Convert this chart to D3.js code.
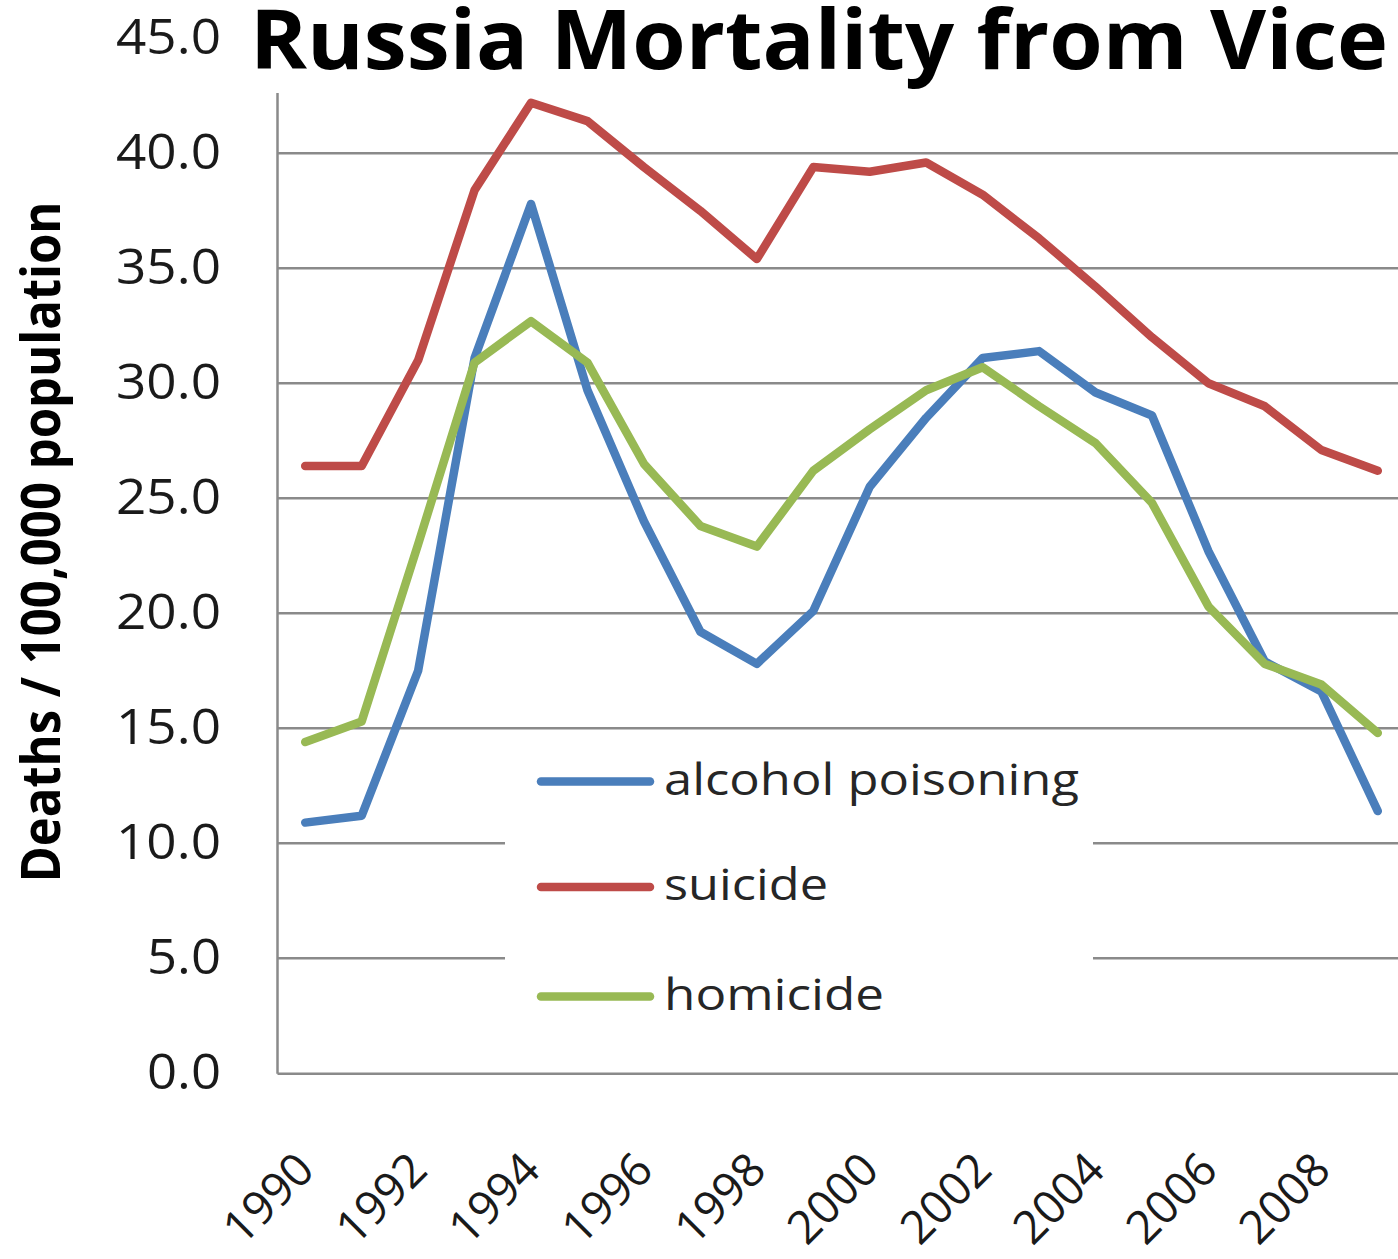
<!DOCTYPE html>
<html>
<head>
<meta charset="utf-8">
<script src="https://cdn.jsdelivr.net/npm/d3@7/dist/d3.min.js"></script>
<style>
  body { margin: 0; background: #ffffff; }
  svg { display: block; }
  text { font-family: "Open Sans", "Noto Sans", sans-serif; }
</style>
</head>
<body>
<svg id="chart" width="1398" height="1259"></svg>
<script>
// Years on the category axis
const years = ["1990","1991","1992","1993","1994","1995","1996","1997","1998","1999",
               "2000","2001","2002","2003","2004","2005","2006","2007","2008","2009"];

// Deaths per 100,000 population
const alcoholPoisoning = [10.9, 11.2, 17.5, 31.1, 37.8, 29.7, 24.0, 19.2, 17.8, 20.1,
                          25.5, 28.5, 31.1, 31.4, 29.6, 28.6, 22.7, 17.9, 16.6, 11.4];
const suicide          = [26.4, 26.4, 31.0, 38.4, 42.2, 41.4, 39.4, 37.5, 35.4, 39.4,
                          39.2, 39.6, 38.2, 36.3, 34.2, 32.0, 30.0, 29.0, 27.1, 26.2];
const homicide         = [14.4, 15.3, 23.0, 30.9, 32.7, 30.9, 26.5, 23.8, 22.9, 26.2,
                          28.0, 29.7, 30.7, 29.0, 27.4, 24.8, 20.3, 17.8, 16.9, 14.8];

const seriesNames = ["alcohol poisoning", "suicide", "homicide"];
const yTicks = [0, 5, 10, 15, 20, 25, 30, 35, 40, 45];
const xTickLabels = ["1990","1992","1994","1996","1998","2000","2002","2004","2006","2008"];

const titleText = "Russia Mortality from Vice";
const yTitleText = "Deaths / 100,000 population";

// ---- styling ----
const seriesColors = ["#4a7ebb", "#be4b48", "#98b954"];
const gridColor = "#8a8a8a";
const svg = d3.select("#chart");

const plot = { left: 277, right: 1406, top: 38.3, bottom: 1073.3 };

const x = d3.scalePoint().domain(years).range([plot.left, plot.right]).padding(0.5);
const y = d3.scaleLinear().domain([0, 45]).range([plot.bottom, plot.top]);

// horizontal gridlines
svg.append("g")
  .selectAll("line")
  .data(yTicks.filter(d => d > 0))
  .join("line")
  .attr("x1", plot.left).attr("x2", plot.right + 20)
  .attr("y1", d => y(d)).attr("y2", d => y(d))
  .attr("stroke", gridColor).attr("stroke-width", 2.5);

// value axis
const fmt = d3.format(".1f");
const yAxis = svg.append("g")
  .attr("transform", `translate(${plot.left},0)`)
  .call(d3.axisLeft(y).tickValues(yTicks).tickSize(0).tickPadding(56).tickFormat(fmt));
yAxis.select(".domain").attr("stroke", gridColor).attr("stroke-width", 2.5);
yAxis.selectAll("text")
  .attr("font-family", "Open Sans")
  .attr("font-size", 49)
  .attr("fill", "#1a1a1a")
  .attr("dy", "0.3em")
  .attr("textLength", d => fmt(d).replace(".", "").length * 31 + 12)
  .attr("lengthAdjust", "spacingAndGlyphs");

// category axis
const xAxis = svg.append("g")
  .attr("transform", `translate(0,${plot.bottom})`)
  .call(d3.axisBottom(x).tickValues(xTickLabels).tickSize(0).tickSizeOuter(0));
xAxis.select(".domain").attr("stroke", gridColor).attr("stroke-width", 2.5);
xAxis.selectAll("text")
  .attr("font-family", "Open Sans")
  .attr("font-size", 46)
  .attr("fill", "#1a1a1a")
  .attr("x", 0).attr("y", 0).attr("dy", null)
  .attr("text-anchor", "end")
  .attr("transform", "translate(11,99) rotate(-45)");

// legend panel (drawn over the gridlines)
const legend = svg.append("g");
legend.append("rect")
  .attr("x", 505).attr("y", 735).attr("width", 588).attr("height", 310)
  .attr("fill", "#ffffff");

// series lines
const line = d3.line()
  .x((d, i) => x(years[i]))
  .y(d => y(d));

[alcoholPoisoning, suicide, homicide].forEach((values, k) => {
  svg.append("path")
    .datum(values)
    .attr("d", line)
    .attr("fill", "none")
    .attr("stroke", seriesColors[k])
    .attr("stroke-width", 8.5)
    .attr("stroke-linejoin", "round")
    .attr("stroke-linecap", "round");
});

// legend entries
const legendRowY = [781.5, 887, 996.5];
const legendTextWidth = [415, 164, 220];
seriesNames.forEach((name, k) => {
  legend.append("line")
    .attr("x1", 541).attr("x2", 650)
    .attr("y1", legendRowY[k]).attr("y2", legendRowY[k])
    .attr("stroke", seriesColors[k]).attr("stroke-width", 8.5)
    .attr("stroke-linecap", "round");
  legend.append("text")
    .attr("x", 664).attr("y", legendRowY[k] + 13)
    .attr("font-size", 44)
    .attr("fill", "#262626")
    .attr("textLength", legendTextWidth[k])
    .attr("lengthAdjust", "spacingAndGlyphs")
    .text(name);
});

// title with its own white panel
svg.append("rect")
  .attr("x", 238).attr("y", 0).attr("width", 1160).attr("height", 93)
  .attr("fill", "#ffffff");
svg.append("text")
  .attr("x", 250).attr("y", 69)
  .attr("font-size", 82)
  .attr("font-weight", 700)
  .attr("fill", "#000000")
  .attr("textLength", 1138)
  .attr("lengthAdjust", "spacingAndGlyphs")
  .text(titleText);

// value axis title
svg.append("text")
  .attr("transform", "translate(60,542) rotate(-90)")
  .attr("text-anchor", "middle")
  .attr("font-size", 53)
  .attr("font-weight", 700)
  .attr("fill", "#000000")
  .attr("textLength", 681)
  .attr("lengthAdjust", "spacingAndGlyphs")
  .text(yTitleText);
</script>
</body>
</html>
